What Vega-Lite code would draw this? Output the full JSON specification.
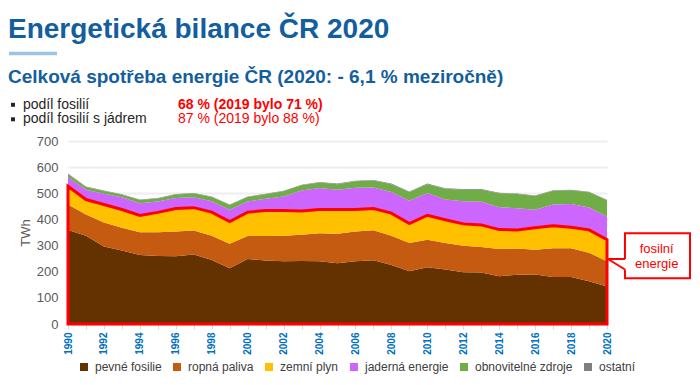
{
  "$schema": "https://vega.github.io/schema/vega-lite/v6.json",
  "width": 539,
  "height": 183,
  "autosize": {"type": "none"},
  "padding": {"left": 68, "top": 141, "right": 93, "bottom": 61},
  "background": "white",
  "config": {
    "view": {"stroke": null},
    "font": "Liberation Sans"
  },
  "data": {"values": [{}]},
  "datasets": {
    "zdroje": [
      {"zdroj": "pevné fosilie", "poradi": 1},
      {"zdroj": "ropná paliva", "poradi": 2},
      {"zdroj": "zemní plyn", "poradi": 3},
      {"zdroj": "jaderná energie", "poradi": 4},
      {"zdroj": "obnovitelné zdroje", "poradi": 5},
      {"zdroj": "ostatní", "poradi": 6}
    ],
    "spotreba": [
      {"rok": 1990, "pevné fosilie": 360, "ropná paliva": 97, "zemní plyn": 70, "jaderná energie": 35, "obnovitelné zdroje": 12, "ostatní": 2},
      {"rok": 1991, "pevné fosilie": 338, "ropná paliva": 81, "zemní plyn": 57, "jaderná energie": 38, "obnovitelné zdroje": 10, "ostatní": 2},
      {"rok": 1992, "pevné fosilie": 296, "ropná paliva": 92, "zemní plyn": 69, "jaderná energie": 41, "obnovitelné zdroje": 11, "ostatní": 2},
      {"rok": 1993, "pevné fosilie": 281, "ropná paliva": 87, "zemní plyn": 70, "jaderná energie": 47, "obnovitelné zdroje": 9, "ostatní": 2},
      {"rok": 1994, "pevné fosilie": 264, "ropná paliva": 87, "zemní plyn": 64, "jaderná energie": 47, "obnovitelné zdroje": 12, "ostatní": 2},
      {"rok": 1995, "pevné fosilie": 260, "ropná paliva": 91, "zemní plyn": 76, "jaderná energie": 42, "obnovitelné zdroje": 11, "ostatní": 2},
      {"rok": 1996, "pevné fosilie": 259, "ropná paliva": 95, "zemní plyn": 88, "jaderná energie": 40, "obnovitelné zdroje": 13, "ostatní": 2},
      {"rok": 1997, "pevné fosilie": 266, "ropná paliva": 92, "zemní plyn": 87, "jaderná energie": 40, "obnovitelné zdroje": 14, "ostatní": 2},
      {"rok": 1998, "pevné fosilie": 245, "ropná paliva": 93, "zemní plyn": 90, "jaderná energie": 42, "obnovitelné zdroje": 16, "ostatní": 2},
      {"rok": 1999, "pevné fosilie": 213, "ropná paliva": 94, "zemní plyn": 85, "jaderná energie": 45, "obnovitelné zdroje": 18, "ostatní": 2},
      {"rok": 2000, "pevné fosilie": 249, "ropná paliva": 88, "zemní plyn": 91, "jaderná energie": 41, "obnovitelné zdroje": 17, "ostatní": 2},
      {"rok": 2001, "pevné fosilie": 243, "ropná paliva": 94, "zemní plyn": 97, "jaderná energie": 45, "obnovitelné zdroje": 17, "ostatní": 2},
      {"rok": 2002, "pevné fosilie": 240, "ropná paliva": 98, "zemní plyn": 96, "jaderná energie": 54, "obnovitelné zdroje": 20, "ostatní": 2},
      {"rok": 2003, "pevné fosilie": 241, "ropná paliva": 100, "zemní plyn": 91, "jaderná energie": 79, "obnovitelné zdroje": 20, "ostatní": 2},
      {"rok": 2004, "pevné fosilie": 240, "ropná paliva": 107, "zemní plyn": 91, "jaderná energie": 82, "obnovitelné zdroje": 21, "ostatní": 2},
      {"rok": 2005, "pevné fosilie": 232, "ropná paliva": 113, "zemní plyn": 93, "jaderná energie": 76, "obnovitelné zdroje": 21, "ostatní": 2},
      {"rok": 2006, "pevné fosilie": 240, "ropná paliva": 114, "zemní plyn": 84, "jaderná energie": 83, "obnovitelné zdroje": 25, "ostatní": 2},
      {"rok": 2007, "pevné fosilie": 244, "ropná paliva": 115, "zemní plyn": 83, "jaderná energie": 80, "obnovitelné zdroje": 27, "ostatní": 2},
      {"rok": 2008, "pevné fosilie": 226, "ropná paliva": 112, "zemní plyn": 86, "jaderná energie": 81, "obnovitelné zdroje": 30, "ostatní": 2},
      {"rok": 2009, "pevné fosilie": 202, "ropná paliva": 108, "zemní plyn": 74, "jaderná energie": 87, "obnovitelné zdroje": 34, "ostatní": 2},
      {"rok": 2010, "pevné fosilie": 217, "ropná paliva": 105, "zemní plyn": 94, "jaderná energie": 85, "obnovitelné zdroje": 34, "ostatní": 2},
      {"rok": 2011, "pevné fosilie": 208, "ropná paliva": 102, "zemní plyn": 89, "jaderná energie": 77, "obnovitelné zdroje": 41, "ostatní": 2},
      {"rok": 2012, "pevné fosilie": 198, "ropná paliva": 101, "zemní plyn": 84, "jaderná energie": 87, "obnovitelné zdroje": 44, "ostatní": 2},
      {"rok": 2013, "pevné fosilie": 197, "ropná paliva": 98, "zemní plyn": 84, "jaderná energie": 89, "obnovitelné zdroje": 46, "ostatní": 2},
      {"rok": 2014, "pevné fosilie": 183, "ropná paliva": 104, "zemní plyn": 74, "jaderná energie": 86, "obnovitelné zdroje": 53, "ostatní": 2},
      {"rok": 2015, "pevné fosilie": 188, "ropná paliva": 101, "zemní plyn": 71, "jaderná energie": 83, "obnovitelné zdroje": 54, "ostatní": 2},
      {"rok": 2016, "pevné fosilie": 189, "ropná paliva": 95, "zemní plyn": 84, "jaderná energie": 69, "obnovitelné zdroje": 53, "ostatní": 2},
      {"rok": 2017, "pevné fosilie": 180, "ropná paliva": 110, "zemní plyn": 86, "jaderná energie": 81, "obnovitelné zdroje": 53, "ostatní": 2},
      {"rok": 2018, "pevné fosilie": 180, "ropná paliva": 110, "zemní plyn": 80, "jaderná energie": 89, "obnovitelné zdroje": 53, "ostatní": 2},
      {"rok": 2019, "pevné fosilie": 164, "ropná paliva": 109, "zemní plyn": 87, "jaderná energie": 86, "obnovitelné zdroje": 58, "ostatní": 2},
      {"rok": 2020, "pevné fosilie": 143, "ropná paliva": 97, "zemní plyn": 83, "jaderná energie": 88, "obnovitelné zdroje": 62, "ostatní": 2}
    ]
  },
  "resolve": {"scale": {"x": "independent", "y": "independent"}, "axis": {"x": "independent", "y": "independent"}},
  "layer": [
    {
      "layer": [
        {
          "data": {"name": "spotreba"},
          "transform": [
            {"fold": ["pevné fosilie", "ropná paliva", "zemní plyn", "jaderná energie", "obnovitelné zdroje", "ostatní"], "as": ["zdroj", "TWh"]},
            {"lookup": "zdroj", "from": {"data": {"name": "zdroje"}, "key": "zdroj", "fields": ["poradi"]}}
          ],
          "mark": {"type": "area"},
          "encoding": {
            "x": {
              "field": "rok", "type": "quantitative",
              "scale": {"domain": [1990, 2020], "nice": false, "zero": false},
              "axis": {
                "title": null,
                "values": [1990, 1991, 1992, 1993, 1994, 1995, 1996, 1997, 1998, 1999, 2000, 2001, 2002, 2003, 2004, 2005, 2006, 2007, 2008, 2009, 2010, 2011, 2012, 2013, 2014, 2015, 2016, 2017, 2018, 2019, 2020],
                "format": "d",
                "labelExpr": "datum.value % 2 == 0 ? datum.label : ''",
                "labelAngle": -90,
                "labelColor": "#0070c0",
                "labelFontWeight": "bold",
                "labelFontSize": 10,
                "labelFlush": false,
                "labelOverlap": false,
                "labelPadding": 3,
                "tickColor": "#d9d9d9",
                "tickSize": 5,
                "domain": false,
                "grid": false
              }
            },
            "y": {
              "field": "TWh", "type": "quantitative", "stack": "zero",
              "scale": {"domain": [0, 700], "nice": false},
              "axis": {
                "title": "TWh",
                "values": [0, 100, 200, 300, 400, 500, 600, 700],
                "labelOverlap": false,
                "grid": true, "gridColor": "#eeeeee", "gridWidth": 2,
                "ticks": false, "tickSize": 0, "domain": false,
                "labelColor": "#595959", "labelFontSize": 13, "labelPadding": 10,
                "titleColor": "#595959", "titleFontSize": 13, "titleFontWeight": "normal", "titlePadding": 4
              }
            },
            "color": {
              "field": "zdroj", "type": "nominal",
              "sort": ["pevné fosilie", "ropná paliva", "zemní plyn", "jaderná energie", "obnovitelné zdroje", "ostatní"],
              "scale": {
                "domain": ["pevné fosilie", "ropná paliva", "zemní plyn", "jaderná energie", "obnovitelné zdroje", "ostatní"],
                "range": ["#633200", "#c55a11", "#ffc000", "#cc66ff", "#70ad47", "#7f7f7f"]
              },
              "legend": {
                "title": null, "orient": "none", "legendX": 10, "legendY": 220,
                "direction": "horizontal", "symbolType": "square", "symbolSize": 64,
                "symbolStrokeWidth": 0, "labelFontSize": 12, "labelColor": "#404040",
                "columnPadding": 9, "labelOffset": 5
              }
            },
            "order": {"field": "poradi", "type": "quantitative", "sort": "ascending"}
          }
        },
        {
          "data": {"name": "spotreba"},
          "transform": [
            {"fold": ["pevné fosilie", "ropná paliva", "zemní plyn"], "as": ["zdroj", "TWh"]},
            {"aggregate": [{"op": "sum", "field": "TWh", "as": "fosilni"}], "groupby": ["rok"]}
          ],
          "mark": {"type": "area", "fillOpacity": 0, "stroke": "#ff0000", "strokeWidth": 3},
          "encoding": {
            "x": {
              "field": "rok", "type": "quantitative",
              "axis": {
                "title": null,
                "values": [1990, 1991, 1992, 1993, 1994, 1995, 1996, 1997, 1998, 1999, 2000, 2001, 2002, 2003, 2004, 2005, 2006, 2007, 2008, 2009, 2010, 2011, 2012, 2013, 2014, 2015, 2016, 2017, 2018, 2019, 2020],
                "format": "d",
                "labelExpr": "datum.value % 2 == 0 ? datum.label : ''",
                "labelAngle": -90,
                "labelColor": "#0070c0",
                "labelFontWeight": "bold",
                "labelFontSize": 10,
                "labelFlush": false,
                "labelOverlap": false,
                "labelPadding": 3,
                "tickColor": "#d9d9d9",
                "tickSize": 5,
                "domain": false,
                "grid": false
              }
            },
            "y": {
              "field": "fosilni", "type": "quantitative", "stack": null,
              "axis": {
                "title": "TWh",
                "values": [0, 100, 200, 300, 400, 500, 600, 700],
                "labelOverlap": false,
                "grid": true, "gridColor": "#eeeeee", "gridWidth": 2,
                "ticks": false, "tickSize": 0, "domain": false,
                "labelColor": "#595959", "labelFontSize": 13, "labelPadding": 10,
                "titleColor": "#595959", "titleFontSize": 13, "titleFontWeight": "normal", "titlePadding": 4
              }
            }
          }
        }
      ]
    },
    {
      "layer": [
        {
          "mark": {"type": "text", "align": "left", "baseline": "alphabetic", "fontSize": 28, "fontWeight": "bold", "color": "#135e9e"},
          "encoding": {
            "x": {"datum": 1986.66, "scale": {"domain": [1990, 2020], "nice": false, "zero": false}, "axis": null},
            "y": {"datum": 1092.8, "scale": {"domain": [0, 700], "nice": false}, "axis": null},
            "text": {"value": "Energetická bilance ČR 2020"}
          }
        },
        {
          "mark": {"type": "rule", "strokeWidth": 3.5, "color": "#9dc3e6"},
          "encoding": {"x": {"datum": 1986.716, "axis": null}, "x2": {"datum": 1989.388}, "y": {"datum": 1034.7, "axis": null}}
        },
        {
          "mark": {"type": "text", "align": "left", "baseline": "alphabetic", "fontSize": 19, "fontWeight": "bold", "color": "#135e9e"},
          "encoding": {"x": {"datum": 1986.66, "axis": null}, "y": {"datum": 920.0, "axis": null}, "text": {"value": "Celková spotřeba energie ČR (2020: - 6,1 % meziročně)"}}
        },
        {
          "mark": {"type": "point", "shape": "square", "filled": true, "size": 16, "color": "#262626", "opacity": 1},
          "encoding": {"x": {"datum": 1986.939, "axis": null}, "y": {"datum": 838.5, "axis": null}}
        },
        {
          "mark": {"type": "point", "shape": "square", "filled": true, "size": 16, "color": "#262626", "opacity": 1},
          "encoding": {"x": {"datum": 1986.939, "axis": null}, "y": {"datum": 783.0, "axis": null}}
        },
        {
          "mark": {"type": "text", "align": "left", "baseline": "alphabetic", "fontSize": 14, "color": "#262626"},
          "encoding": {"x": {"datum": 1987.496, "axis": null}, "y": {"datum": 824.3, "axis": null}, "text": {"value": "podíl fosilií"}}
        },
        {
          "mark": {"type": "text", "align": "left", "baseline": "alphabetic", "fontSize": 14, "color": "#262626"},
          "encoding": {"x": {"datum": 1987.496, "axis": null}, "y": {"datum": 768.8, "axis": null}, "text": {"value": "podíl fosilií s jádrem"}}
        },
        {
          "mark": {"type": "text", "align": "left", "baseline": "alphabetic", "fontSize": 14, "fontWeight": "bold", "color": "#ff0000"},
          "encoding": {"x": {"datum": 1996.122, "axis": null}, "y": {"datum": 824.3, "axis": null}, "text": {"value": "68 % (2019 bylo 71 %)"}}
        },
        {
          "mark": {"type": "text", "align": "left", "baseline": "alphabetic", "fontSize": 14, "color": "#ff0000"},
          "encoding": {"x": {"datum": 1996.122, "axis": null}, "y": {"datum": 768.8, "axis": null}, "text": {"value": "87 % (2019 bylo 88 %)"}}
        },
        {
          "mark": {"type": "rect", "fill": "white", "stroke": "#ff0000", "strokeWidth": 2},
          "encoding": {"x": {"datum": 2021.0, "axis": null}, "x2": {"datum": 2024.62}, "y": {"datum": 346.9, "axis": null}, "y2": {"datum": 174.8}}
        },
        {
          "mark": {"type": "rule", "strokeWidth": 4, "color": "white"},
          "encoding": {"x": {"datum": 2021.0, "axis": null}, "y": {"datum": 248.6, "axis": null}, "y2": {"datum": 208.5}}
        },
        {
          "mark": {"type": "rule", "strokeWidth": 2, "color": "#ff0000"},
          "encoding": {"x": {"datum": 2020.056, "axis": null}, "x2": {"datum": 2021.0}, "y": {"datum": 248.6, "axis": null}, "y2": {"datum": 248.6}}
        },
        {
          "mark": {"type": "rule", "strokeWidth": 2, "color": "#ff0000"},
          "encoding": {"x": {"datum": 2020.056, "axis": null}, "x2": {"datum": 2021.0}, "y": {"datum": 248.6, "axis": null}, "y2": {"datum": 208.5}}
        },
        {
          "mark": {"type": "text", "align": "center", "baseline": "alphabetic", "fontSize": 13, "color": "#ff0000"},
          "encoding": {"x": {"datum": 2022.766, "axis": null}, "y": {"datum": 271.6, "axis": null}, "text": {"value": "fosilní"}}
        },
        {
          "mark": {"type": "text", "align": "center", "baseline": "alphabetic", "fontSize": 13, "color": "#ff0000"},
          "encoding": {"x": {"datum": 2022.766, "axis": null}, "y": {"datum": 216.1, "axis": null}, "text": {"value": "energie"}}
        }
      ]
    }
  ]
}
